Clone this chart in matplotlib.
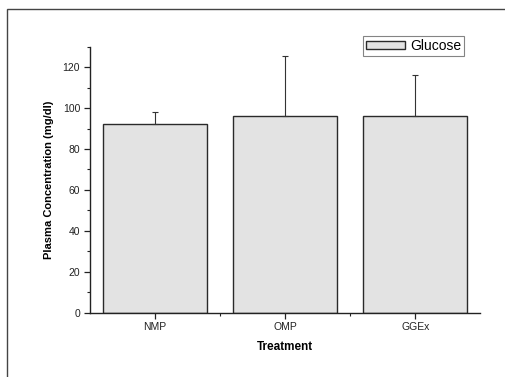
import numpy as np
import matplotlib
matplotlib.use("Agg")
import matplotlib.pyplot as plt
from matplotlib.patches import Rectangle
from matplotlib.ticker import MultipleLocator

plt.rcParams['font.family'] = ['Liberation Sans', 'DejaVu Sans']

# data
treatments = ["NMP", "OMP", "GGEx"]
glucose = [92.3, 95.9, 95.9]
glucose_err = [5.9, 29.6, 20.4]

fig = plt.figure(figsize=(5.05, 3.77), dpi=100)
ax = fig.add_axes([0.178, 0.171, 0.773, 0.705])

# frame around the whole picture
fig.patches.append(Rectangle((7 / 505, -0.1), 1.2, 1 - 9 / 377 + 0.1,
                             transform=fig.transFigure, fill=False,
                             edgecolor="#444444", linewidth=1.0))

x = np.arange(len(treatments))
ax.bar(x, glucose, width=0.8, color="#e3e3e3", edgecolor="#2a2a2a",
       linewidth=1.0, label="Glucose", zorder=2)
ax.errorbar(x, glucose, yerr=[np.zeros(len(glucose)), glucose_err],
            fmt="none", ecolor="#333333", elinewidth=0.8, capsize=2,
            capthick=0.8, zorder=3)

ax.set_xlim(-0.5, 2.5)
ax.set_ylim(0, 130)
ax.set_xticks(x)
ax.set_xticklabels(treatments)
ax.set_xticks([0.5, 1.5], minor=True)
ax.yaxis.set_major_locator(MultipleLocator(20))
ax.yaxis.set_minor_locator(MultipleLocator(10))

for s in ["top", "right"]:
    ax.spines[s].set_visible(False)
for s in ["left", "bottom"]:
    ax.spines[s].set_linewidth(1.0)
    ax.spines[s].set_color("#222222")

ax.tick_params(which="major", length=4, width=0.9, labelsize=7.5, colors="#222222", pad=3)
ax.tick_params(which="minor", length=2, width=0.8, colors="#222222")

ax.set_xlabel("Treatment", fontsize=8.5, fontweight="bold", labelpad=6)
ax.set_ylabel("Plasma Concentration (mg/dl)", fontsize=8, fontweight="bold", labelpad=6)

leg = ax.legend(loc="upper right", bbox_to_anchor=(0.958, 1.04), fontsize=10,
                frameon=True, fancybox=False, edgecolor="#666666",
                handlelength=2.8, handleheight=0.6, borderpad=0.2,
                handletextpad=0.35, borderaxespad=0)
leg.get_frame().set_linewidth(0.8)

fig.savefig("out.png", dpi=100)
